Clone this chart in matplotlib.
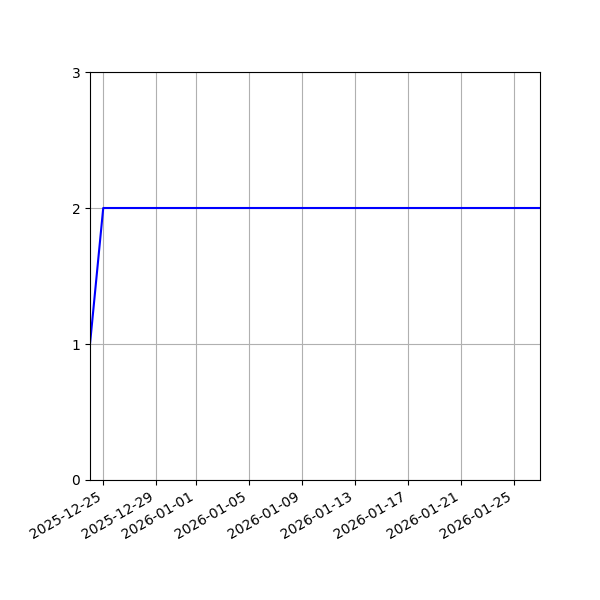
import matplotlib
matplotlib.use("Agg")
import matplotlib.pyplot as plt
import matplotlib.dates as mdates
import numpy as np

dates = np.array(["2025-12-24", "2025-12-25", "2026-01-27"], dtype="datetime64[D]")
values = [1, 2, 2]

fig, ax = plt.subplots(figsize=(6, 6), dpi=100)
ax.plot(dates, values, color="blue")
ax.set_xlim(dates[0], dates[-1])
ax.set_ylim(0, 3)
ax.set_yticks([0, 1, 2, 3])
ax.xaxis.set_major_locator(mdates.AutoDateLocator())
ax.xaxis.set_major_formatter(mdates.DateFormatter("%Y-%m-%d"))
ax.grid(True)
fig.autofmt_xdate()
fig.subplots_adjust(left=0.15, right=0.9, top=0.88, bottom=0.2)
fig.savefig("out.png", dpi=100)
